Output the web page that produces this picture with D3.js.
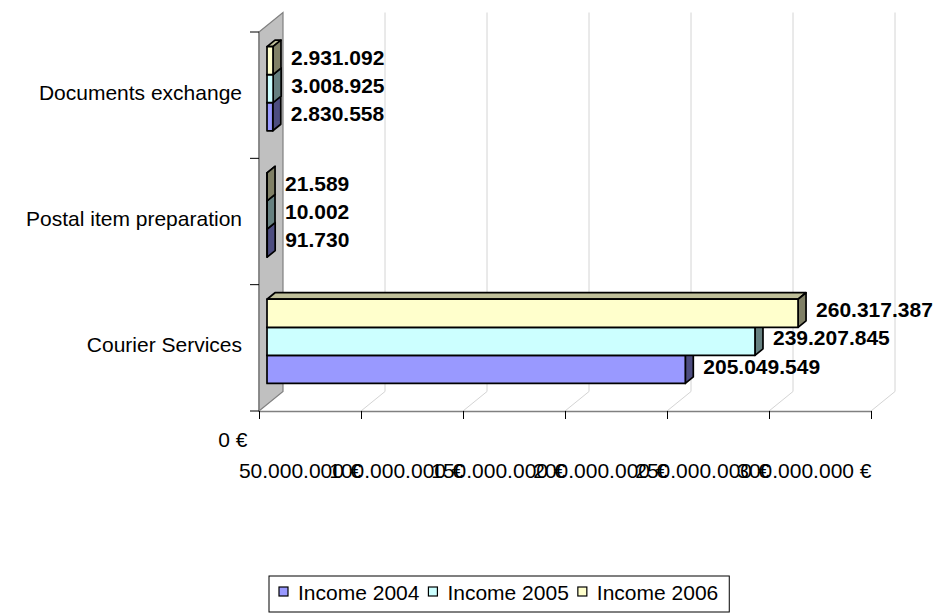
<!DOCTYPE html>
<html>
<head>
<meta charset="utf-8">
<script src="https://cdn.jsdelivr.net/npm/d3@7"></script>
<style>
  body { margin: 0; background: #fff; }
  svg text { font-family: "Liberation Sans", Arial, sans-serif; fill: #000; }
</style>
</head>
<body>
<svg id="chart" width="935" height="613"></svg>
<script>
// Income per service line, bottom category first
const categories = ["Courier Services", "Postal item preparation", "Documents exchange"];
const seriesNames = ["Income 2004", "Income 2005", "Income 2006"];
const income2004 = [205049549, 91730, 2830558];
const income2005 = [239207845, 10002, 3008925];
const income2006 = [260317387, 21589, 2931092];
const axisTicks = [0, 50000000, 100000000, 150000000, 200000000, 250000000, 300000000];
const seriesColors = ["#9999ff", "#ccffff", "#ffffcc"];

const seriesValues = [income2004, income2005, income2006];

const svg = d3.select("#chart");
const fontSize = 21;

// Euro formatting with dot as thousands separator
const locale = d3.formatLocale({ decimal: ",", thousands: ".", grouping: [3], currency: ["", " €"] });
const fmtEuro = locale.format("$,.0f");
const fmtValue = locale.format(",.0f");

// Plot frame on the front plane and the oblique depth vector of the floor
const frame = { left: 259, right: 871, top: 32, bottom: 411 };
const depth = { dx: 24, dy: -19.5 };
const barFront = 1 / 3, barBack = 2 / 3;

const x = d3.scaleLinear().domain([0, 300000000]).range([frame.left, frame.right]);
const y = d3.scaleBand().domain(categories).range([frame.bottom, frame.top]);
const ySub = d3.scaleBand()
  .domain(seriesNames.slice().reverse())
  .range([0, y.bandwidth()])
  .paddingInner(0)
  .paddingOuter(0.75);

const px = (v, d) => x(v) + d * depth.dx;
const py = (yy, d) => yy + d * depth.dy;
const shade = (c, k) => { const r = d3.rgb(c); return d3.rgb(r.r * k, r.g * k, r.b * k).formatHex(); };

// Side wall behind the category axis
const x0 = x(0);
svg.append("polygon")
  .attr("points", [
    [x0, frame.top], [x0 + depth.dx, frame.top + depth.dy],
    [x0 + depth.dx, frame.bottom + depth.dy], [x0, frame.bottom]
  ].map(p => p.join(",")).join(" "))
  .attr("fill", "#c0c0c0")
  .attr("stroke", "#808080")
  .attr("stroke-width", 1.2);

// Gridlines: floor diagonal plus back vertical
const grid = svg.append("g").attr("stroke", "#d4d4d4").attr("stroke-width", 1).attr("fill", "none");
axisTicks.filter(t => t > 0).forEach(t => {
  grid.append("path")
    .attr("d", d3.line()([
      [x(t), frame.bottom],
      [x(t) + depth.dx, frame.bottom + depth.dy],
      [x(t) + depth.dx, frame.top + depth.dy]
    ]));
});

// Value axis along the front edge of the floor
const xAxis = d3.axisBottom(x)
  .tickValues(axisTicks)
  .tickSize(8)
  .tickSizeOuter(0)
  .tickFormat(fmtEuro);
const gx = svg.append("g").attr("transform", `translate(0,${frame.bottom})`).call(xAxis);
gx.select(".domain").attr("stroke", "#808080").attr("stroke-width", 1.5);
gx.selectAll(".tick line").attr("stroke", "#000").attr("stroke-width", 1);
gx.selectAll(".tick text")
  .attr("font-size", fontSize)
  .attr("font-family", "'Liberation Sans', Arial, sans-serif")
  .attr("fill", "#000")
  .attr("text-anchor", "end")
  .attr("dy", null)
  .attr("x", d => d === 0 ? -12 : 0)
  .attr("y", d => d === 0 ? 36 : 67);

// Category axis line with tick marks at band edges
const catEdges = [frame.bottom].concat(categories.map(c => y(c)));
svg.append("line")
  .attr("x1", x0).attr("x2", x0)
  .attr("y1", frame.top).attr("y2", frame.bottom)
  .attr("stroke", "#808080").attr("stroke-width", 1.5);
svg.append("g").selectAll("line").data(catEdges).join("line")
  .attr("x1", x0 - 9).attr("x2", x0)
  .attr("y1", d => d).attr("y2", d => d)
  .attr("stroke", "#000").attr("stroke-width", 1);

svg.append("g").selectAll("text").data(categories).join("text")
  .attr("x", 242)
  .attr("y", c => y(c) + y.bandwidth() / 2 - 3)
  .attr("dy", "0.35em")
  .attr("text-anchor", "end")
  .attr("font-size", fontSize)
  .text(c => c);

// 3D bars: top face, end face, then front face
const bars = svg.append("g")
  .attr("stroke", "#000")
  .attr("stroke-width", 1.7)
  .attr("stroke-linejoin", "round");

const labelData = [];
categories.forEach((cat, ci) => {
  seriesNames.forEach((name, si) => {
    const v = seriesValues[si][ci];
    const color = seriesColors[si];
    const yTop = y(cat) + ySub(name);
    const yBot = yTop + ySub.bandwidth();
    const xf0 = px(0, barFront), xfv = px(v, barFront);
    const xb0 = px(0, barBack), xbv = px(v, barBack);
    const ytf = py(yTop, barFront), ybf = py(yBot, barFront);
    const ytb = py(yTop, barBack), ybb = py(yBot, barBack);

    bars.append("polygon")
      .attr("points", [[xf0, ytf], [xfv, ytf], [xbv, ytb], [xb0, ytb]].map(p => p.join(",")).join(" "))
      .attr("fill", shade(color, 0.75));
    bars.append("polygon")
      .attr("points", [[xfv, ytf], [xbv, ytb], [xbv, ybb], [xfv, ybf]].map(p => p.join(",")).join(" "))
      .attr("fill", shade(color, 0.5));
    bars.append("rect")
      .attr("x", xf0).attr("y", ytf)
      .attr("width", Math.max(0, xfv - xf0)).attr("height", ybf - ytf)
      .attr("fill", color);

    labelData.push({
      v,
      x: px(v, barBack) + 10,
      y: py(yTop + ySub.bandwidth() / 2, (barFront + barBack) / 2)
    });
  });
});

// Value labels
svg.append("g").selectAll("text").data(labelData).join("text")
  .attr("x", d => d.x)
  .attr("y", d => d.y)
  .attr("dy", "0.35em")
  .attr("font-size", fontSize)
  .attr("font-weight", "bold")
  .text(d => fmtValue(d.v));

// Legend
const legend = svg.append("g").attr("transform", "translate(269,576)");
const legendBox = legend.append("rect")
  .attr("x", 0).attr("y", 0).attr("height", 36)
  .attr("fill", "#fff").attr("stroke", "#000").attr("stroke-width", 1);
let lx = 10;
seriesNames.forEach((name, i) => {
  legend.append("rect")
    .attr("x", lx).attr("y", 11).attr("width", 9).attr("height", 9)
    .attr("fill", seriesColors[i]).attr("stroke", "#000").attr("stroke-width", 1.2);
  const t = legend.append("text")
    .attr("x", lx + 19).attr("y", 24)
    .attr("font-size", fontSize)
    .text(name);
  lx += 19 + t.node().getComputedTextLength() + 9;
});
legendBox.attr("width", lx + 2);
</script>
</body>
</html>
